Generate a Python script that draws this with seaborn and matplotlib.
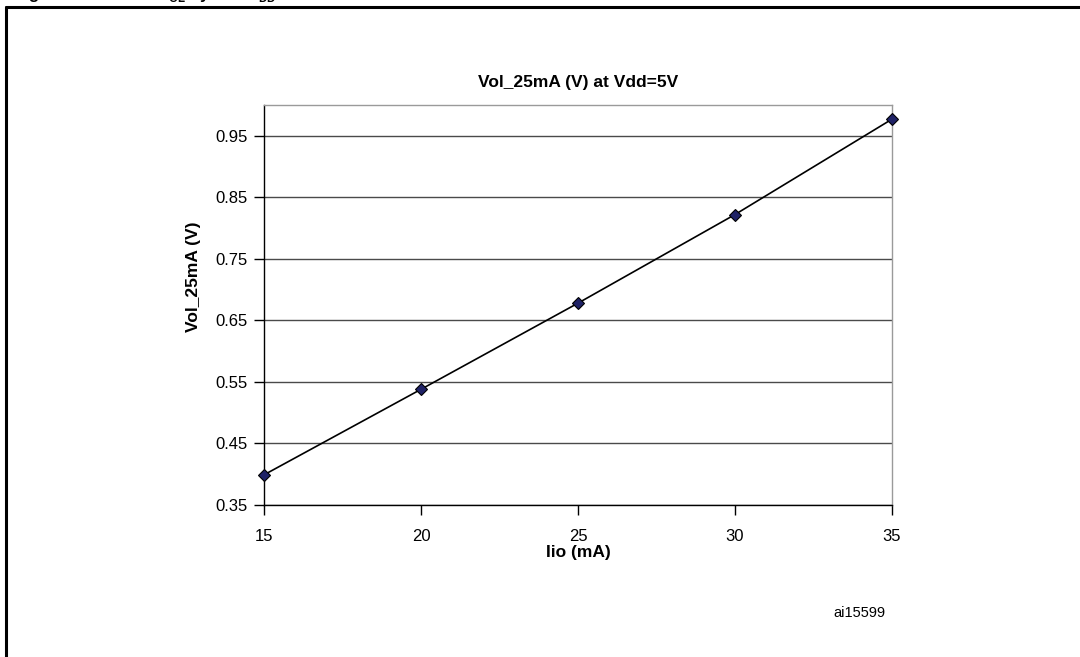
"""Vol at 25mA vs Iio, Vdd=5V."""
import matplotlib
matplotlib.use("Agg")
import matplotlib.pyplot as plt
import seaborn as sns
import pandas as pd
from matplotlib.lines import Line2D

# data
iio_ma = [15, 20, 25, 30, 35]
vol_v = [0.399, 0.538, 0.678, 0.822, 0.977]
x_ticks = [15, 20, 25, 30, 35]
y_ticks = [0.35, 0.45, 0.55, 0.65, 0.75, 0.85, 0.95]

df = pd.DataFrame({"Iio": iio_ma, "Vol": vol_v})

sns.set_theme(style="white")
plt.rcParams['font.family'] = ['Liberation Sans', 'DejaVu Sans']
plt.rcParams['mathtext.fontset'] = 'custom'
plt.rcParams['mathtext.bf'] = 'Liberation Sans:bold'
plt.rcParams['mathtext.rm'] = 'Liberation Sans'
plt.rcParams['text.color'] = 'black'
plt.rcParams['axes.labelcolor'] = 'black'
plt.rcParams['xtick.color'] = 'black'
plt.rcParams['ytick.color'] = 'black'

W, H = 1080, 657
fig = plt.figure(figsize=(W / 100, H / 100), dpi=100)
ax = fig.add_axes([264 / W, 1 - 505 / H, (892 - 264) / W, (505 - 105) / H])

# line + diamond markers
sns.lineplot(data=df, x="Iio", y="Vol", ax=ax, color="black", linewidth=1.2,
             marker="D", markersize=6.5, markerfacecolor="#1f2266",
             markeredgecolor="black", markeredgewidth=0.8, clip_on=False,
             zorder=5)

ax.set_xlim(15, 35)
ax.set_ylim(0.35, 1.0)
ax.set_xticks(x_ticks)
ax.set_yticks(y_ticks)
ax.set_yticklabels([f"{v:.2f}" for v in y_ticks])
ax.tick_params(axis="both", direction="out", length=7, width=1,
               color="black", labelsize=12, labelcolor="black")
ax.tick_params(axis="x", pad=10)
ax.tick_params(axis="y", pad=5)
ax.xaxis.set_ticks_position("bottom")
ax.yaxis.set_ticks_position("left")

ax.yaxis.grid(True, color="#4a4a4a", linewidth=1)
ax.xaxis.grid(False)
ax.set_axisbelow(True)

for side in ["left", "bottom"]:
    ax.spines[side].set_color("black")
    ax.spines[side].set_linewidth(1)
for side in ["top", "right"]:
    ax.spines[side].set_color("#9a9a9a")
    ax.spines[side].set_linewidth(1)

ax.set_title("Vol_25mA (V) at Vdd=5V", fontsize=12.5, fontweight="bold",
             pad=13)
ax.set_xlabel("Iio (mA)", fontsize=12.5, fontweight="bold")
ax.xaxis.set_label_coords(0.5, -0.1)
ax.set_ylabel("Vol_25mA (V)", fontsize=12.5, fontweight="bold")
ax.yaxis.set_label_coords(-0.1, 0.57)

fig.text(833 / W, 1 - 613 / H, "ai15599", fontsize=10.5, ha="left",
         va="center")

# outer frame (only top and left edges are in view)
fig.add_artist(Line2D([6 / W, 1], [1 - 6.5 / H, 1 - 6.5 / H],
                      transform=fig.transFigure, color="black", linewidth=2.2))
fig.add_artist(Line2D([6 / W, 6 / W], [0, 1 - 6.5 / H],
                      transform=fig.transFigure, color="black", linewidth=2.2))

# caption of the figure, cut off by the top edge
fig.text(14 / W, 1 + 1.5 / H,
         r"Figure 40.              V$_\mathbf{OL}$ by    at V$_\mathbf{DD}$",
         fontsize=12, fontweight="bold", ha="left", va="baseline")

fig.savefig("out.png", dpi=100)
